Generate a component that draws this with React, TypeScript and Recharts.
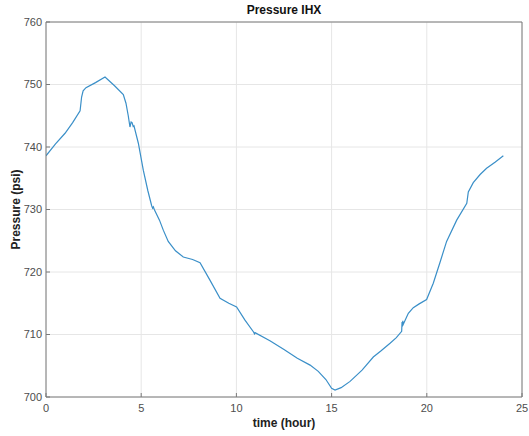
import { LineChart, Line, XAxis, YAxis, CartesianGrid, Label, ReferenceLine } from 'recharts'

// time in hours, pressure in psi
const timeHours = [
  0, 0.5, 1.0, 1.4, 1.79, 1.87, 1.95, 2.1, 2.6, 3.1, 3.6, 4.06, 4.2, 4.32, 4.41, 4.47, 4.52, 4.58, 4.62, 4.85,
  5.11, 5.35, 5.55, 5.6, 5.64, 5.7, 5.96, 6.16, 6.42, 6.8, 7.21, 7.7, 8.09, 8.61, 9.14, 9.6, 10.01, 10.45,
  10.9, 10.95, 10.98, 11.76, 12.5, 13.2, 13.87, 14.3, 14.7, 15.0, 15.18, 15.5, 15.97, 16.6, 17.19, 17.6,
  18.07, 18.4, 18.68, 18.7, 18.72, 18.74, 18.76, 19.03, 19.29, 19.6, 19.99, 20.34, 20.7, 21.04, 21.57,
  22.1, 22.18, 22.44, 22.8, 23.14, 23.6, 24.02,
]
const pressurePsi = [
  738.6, 740.5, 742.2, 743.9, 745.8, 748.0, 749.0, 749.5, 750.3, 751.2, 749.8, 748.4, 747.0, 745.0, 743.2,
  744.0, 743.9, 743.3, 743.4, 740.6, 736.3, 733.0, 730.6, 730.2, 730.4, 729.9, 728.3, 726.7, 724.9, 723.4,
  722.4, 722.0, 721.5, 718.7, 715.8, 715.0, 714.4, 712.3, 710.4, 710.1, 710.3, 709.0, 707.6, 706.2, 705.1,
  704.1, 702.8, 701.4, 701.1, 701.5, 702.5, 704.3, 706.4, 707.4, 708.6, 709.5, 710.5, 712.0, 711.3, 712.2,
  711.6, 713.4, 714.3, 714.9, 715.6, 718.2, 721.6, 724.9, 728.3, 731.0, 732.8, 734.3, 735.6, 736.6, 737.6,
  738.6,
]

const xTicks = [0, 5, 10, 15, 20, 25]
const yTicks = [700, 710, 720, 730, 740, 750, 760]

const data = timeHours.map((t, i) => ({ t, p: pressurePsi[i] }))

const FONT = '"Liberation Sans", Arial, Helvetica, sans-serif'
const AXIS = '#7a7a7a'
const TICK_TEXT = { fontSize: 11, fill: '#4d4d4d', fontFamily: FONT }

export default function App() {
  return (
    <div style={{ position: 'absolute', left: 0, top: 0, width: 529, height: 436, background: '#fff' }}>
      <div
        style={{
          position: 'absolute',
          left: 46,
          width: 476,
          top: 3,
          textAlign: 'center',
          fontFamily: FONT,
          fontWeight: 700,
          fontSize: 12,
          color: '#111',
        }}
      >
        Pressure IHX
      </div>
      <LineChart
        width={529}
        height={436}
        data={data}
        margin={{ top: 22, right: 7, bottom: 9, left: 6 }}
      >
        <CartesianGrid stroke="#e6e6e6" strokeWidth={1} />
        <XAxis
          dataKey="t"
          type="number"
          domain={[0, 25]}
          ticks={xTicks}
          allowDataOverflow
          height={30}
          stroke={AXIS}
          tickSize={-4}
          tickMargin={11}
          tick={TICK_TEXT}
        >
          <Label
            value="time (hour)"
            position="insideBottom"
            offset={0}
            style={{ fontSize: 12, fontWeight: 700, fill: '#222', fontFamily: FONT }}
          />
        </XAxis>
        <XAxis
          xAxisId="top"
          orientation="top"
          type="number"
          domain={[0, 25]}
          ticks={xTicks}
          allowDataOverflow
          height={0}
          stroke={AXIS}
          mirror
          tick={false}
          tickSize={4}
        />
        <YAxis
          type="number"
          domain={[700, 760]}
          ticks={yTicks}
          allowDataOverflow
          width={40}
          stroke={AXIS}
          tickSize={-4}
          tickMargin={8}
          tick={TICK_TEXT}
        >
          <Label
            value="Pressure (psi)"
            angle={-90}
            position="insideLeft"
            offset={10}
            style={{ textAnchor: 'middle', fontSize: 12, fontWeight: 700, fill: '#222', fontFamily: FONT }}
          />
        </YAxis>
        <YAxis
          yAxisId="right"
          orientation="right"
          type="number"
          domain={[700, 760]}
          ticks={yTicks}
          allowDataOverflow
          width={0}
          stroke={AXIS}
          mirror
          tick={false}
          tickSize={4}
        />
        <ReferenceLine x={25} stroke={AXIS} />
        <ReferenceLine y={760} stroke={AXIS} />
        <Line
          dataKey="p"
          type="linear"
          stroke="#3a8fc8"
          strokeWidth={1.2}
          dot={false}
          isAnimationActive={false}
        />
      </LineChart>
    </div>
  )
}
